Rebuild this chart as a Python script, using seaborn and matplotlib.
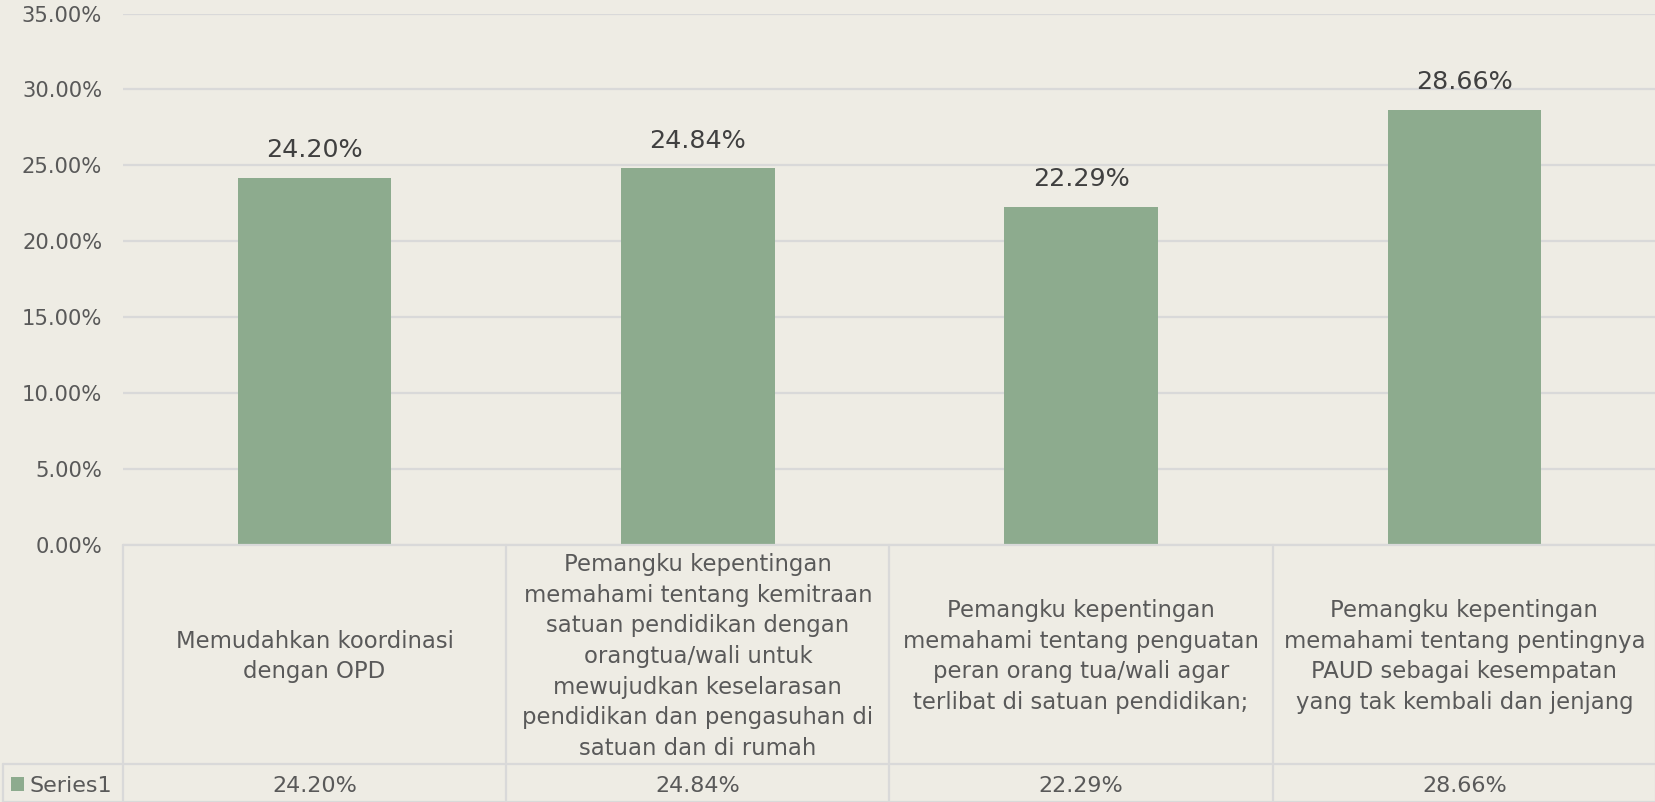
import matplotlib
matplotlib.use("Agg")
import matplotlib.pyplot as plt
import matplotlib.transforms as mtransforms
from matplotlib.patches import Rectangle
import seaborn as sns
import pandas as pd

# ---------------- data ----------------
categories = [
    "Memudahkan koordinasi\ndengan OPD",
    "Pemangku kepentingan\nmemahami tentang kemitraan\nsatuan pendidikan dengan\norangtua/wali untuk\nmewujudkan keselarasan\npendidikan dan pengasuhan di\nsatuan dan di rumah",
    "Pemangku kepentingan\nmemahami tentang penguatan\nperan orang tua/wali agar\nterlibat di satuan pendidikan;",
    "Pemangku kepentingan\nmemahami tentang pentingnya\nPAUD sebagai kesempatan\nyang tak kembali dan jenjang",
]
values = [0.2420, 0.2484, 0.2229, 0.2866]
series_name = "Series1"
yticks = [0.0, 0.05, 0.10, 0.15, 0.20, 0.25, 0.30, 0.35]

# ---------------- style ----------------
BG = "#EEECE4"
BAR = "#8DAB8E"
GRID = "#D9D9D9"
TXT = "#404040"
TICK = "#595959"

sns.set_theme(style="white")
plt.rcParams["font.family"] = ["DejaVu Sans"]

W, H = 1656, 802
fig = plt.figure(figsize=(W / 100, H / 100), dpi=100, facecolor=BG)


def fy(py):  # pixel-from-top -> figure fraction
    return 1 - py / H


def fx(px):
    return px / W


left_px, top_px, zero_px = 123, 13.5, 545
ax = fig.add_axes([fx(left_px), fy(zero_px), fx(W - left_px), (zero_px - top_px) / H])
ax.set_facecolor(BG)

df = pd.DataFrame({"cat": categories, "val": values})
sns.barplot(data=df, x="cat", y="val", color=BAR, width=0.4, ax=ax,
            saturation=1, edgecolor="none", zorder=3)

ax.set_xlim(-0.5, len(categories) - 0.5)
ax.set_ylim(0, 0.35)
ax.set_yticks(yticks)
ax.set_yticklabels([f"{v*100:.2f}%" for v in yticks], fontsize=15.2, color=TICK)
ax.set_xticks([])
ax.set_xlabel("")
ax.set_ylabel("")
ax.tick_params(axis="y", length=0, pad=15)
for s in ax.spines.values():
    s.set_visible(False)
ax.grid(axis="y", color=GRID, linewidth=1.6, zorder=0)
ax.grid(axis="x", visible=False)

# data labels
for i, v in enumerate(values):
    ax.annotate(f"{v*100:.2f}%", (i, v), xytext=(0, 11), textcoords="offset points",
                ha="center", va="bottom", fontsize=18.3, color=TXT)

# ---------------- data table ----------------
bt = mtransforms.blended_transform_factory(ax.transData, fig.transFigure)
ft = fig.transFigure
row1_bot = 764
lw = 1.6
n = len(categories)
# horizontal lines
fig.add_artist(plt.Line2D([fx(left_px), 1], [fy(zero_px), fy(zero_px)], color=GRID, lw=lw, transform=ft))
fig.add_artist(plt.Line2D([fx(3), 1], [fy(row1_bot), fy(row1_bot)], color=GRID, lw=lw, transform=ft))
fig.add_artist(plt.Line2D([fx(3), 1], [fy(801.5), fy(801.5)], color=GRID, lw=lw, transform=ft))
# vertical lines
for b in range(n + 1):
    xb = b - 0.5
    ax.plot([xb, xb], [fy(zero_px), fy(H)], color=GRID, lw=lw, transform=bt, clip_on=False)
fig.add_artist(plt.Line2D([fx(3.5), fx(3.5)], [fy(row1_bot), fy(H)], color=GRID, lw=lw, transform=ft))

# category texts
for i, c in enumerate(categories):
    ax.text(i, fy((zero_px + row1_bot) / 2 + 2), c, transform=bt, ha="center", va="center",
            fontsize=16.4, color=TICK, linespacing=1.43)

# series row
for i, v in enumerate(values):
    ax.text(i, fy(786), f"{v*100:.2f}%", transform=bt, ha="center", va="center",
            fontsize=16, color=TICK)
fig.add_artist(Rectangle((fx(11.5), fy(791)), fx(13), 14 / H, transform=ft,
                         facecolor=BAR, edgecolor="none"))
fig.text(fx(30), fy(786), series_name, ha="left", va="center", fontsize=16, color=TICK)

fig.savefig("out.png", dpi=100, facecolor=BG)
